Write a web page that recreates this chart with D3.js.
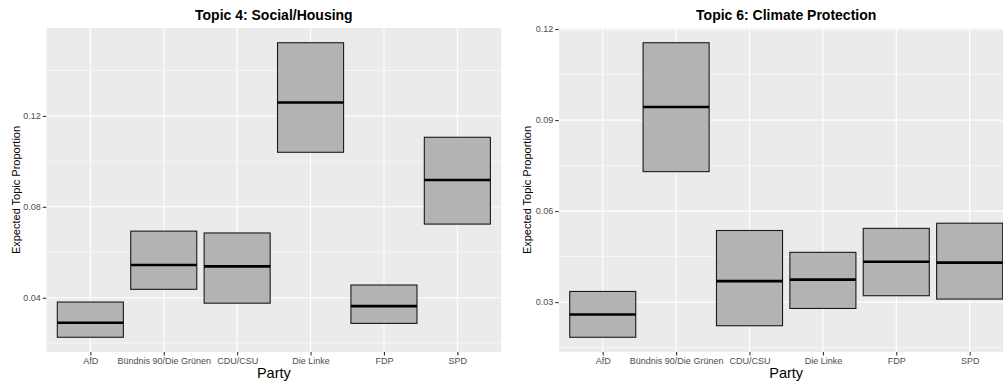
<!DOCTYPE html>
<html>
<head>
<meta charset="utf-8">
<script src="https://cdn.jsdelivr.net/npm/d3@7"></script>
<style>
  html, body { margin: 0; padding: 0; background: #ffffff; }
  svg { display: block; font-family: "Liberation Sans", Arial, Helvetica, sans-serif; }
</style>
</head>
<body>
<svg id="chart" width="1003" height="388"></svg>
<script>
// Parties on the x axis
const parties = ["AfD", "Bündnis 90/Die Grünen", "CDU/CSU", "Die Linke", "FDP", "SPD"];

// Topic 4: Social/Housing — estimated topic proportion with 95% interval
const socialLower = [0.0226, 0.0437, 0.0376, 0.1040, 0.0287, 0.0724];
const socialMean  = [0.0290, 0.0544, 0.0538, 0.1259, 0.0363, 0.0918];
const socialUpper = [0.0381, 0.0693, 0.0685, 0.1522, 0.0456, 0.1106];

// Topic 6: Climate Protection
const climateLower = [0.0184, 0.0730, 0.0222, 0.0279, 0.0321, 0.0310];
const climateMean  = [0.0259, 0.0943, 0.0369, 0.0374, 0.0433, 0.0430];
const climateUpper = [0.0335, 0.1155, 0.0536, 0.0464, 0.0543, 0.0560];

// Axis ticks
const socialTicks  = [0.04, 0.08, 0.12];
const socialMinor  = [0.02, 0.06, 0.10, 0.14];
const climateTicks = [0.03, 0.06, 0.09, 0.12];
const climateMinor = [0.015, 0.045, 0.075, 0.105];

const panels = [
  { title: "Topic 4: Social/Housing", lower: socialLower, mean: socialMean, upper: socialUpper,
    ticks: socialTicks, minor: socialMinor, fmt: d3.format(".2f"), x0: 46.3, x1: 501.4, axisTitleX: 15.5 },
  { title: "Topic 6: Climate Protection", lower: climateLower, mean: climateMean, upper: climateUpper,
    ticks: climateTicks, minor: climateMinor, fmt: d3.format(".2f"), x0: 558.7, x1: 1013.7, axisTitleX: 527 }
];

const svg = d3.select("#chart");
const panelTop = 28, panelBottom = 352;

panels.forEach(p => {
  const x = d3.scalePoint().domain(parties).range([p.x0, p.x1]).padding(0.6);
  const lo = d3.min(p.lower), hi = d3.max(p.upper);
  const pad = (hi - lo) * 0.05;
  const y = d3.scaleLinear().domain([lo - pad, hi + pad]).range([panelBottom, panelTop]);
  const bw = x.step() * 0.9;

  const g = svg.append("g");
  const clipId = "clip" + Math.round(p.x0);
  svg.append("clipPath").attr("id", clipId)
    .append("rect").attr("x", p.x0).attr("y", panelTop).attr("width", p.x1 - p.x0).attr("height", panelBottom - panelTop);

  const plot = g.append("g").attr("clip-path", `url(#${clipId})`);

  // Panel background
  plot.append("rect")
    .attr("x", p.x0).attr("y", panelTop)
    .attr("width", p.x1 - p.x0).attr("height", panelBottom - panelTop)
    .attr("fill", "#ebebeb");

  // Minor grid
  plot.selectAll(".minor").data(p.minor.filter(v => v >= y.domain()[0] && v <= y.domain()[1]))
    .enter().append("line")
    .attr("x1", p.x0).attr("x2", p.x1)
    .attr("y1", d => y(d)).attr("y2", d => y(d))
    .attr("stroke", "#ffffff").attr("stroke-width", 0.55);

  // Major grid
  plot.selectAll(".majorY").data(p.ticks)
    .enter().append("line")
    .attr("x1", p.x0).attr("x2", p.x1)
    .attr("y1", d => y(d)).attr("y2", d => y(d))
    .attr("stroke", "#ffffff").attr("stroke-width", 1.1);
  plot.selectAll(".majorX").data(parties)
    .enter().append("line")
    .attr("x1", d => x(d)).attr("x2", d => x(d))
    .attr("y1", panelTop).attr("y2", panelBottom)
    .attr("stroke", "#ffffff").attr("stroke-width", 1.1);

  // Crossbars
  const rows = parties.map((d, i) => ({ party: d, lower: p.lower[i], mean: p.mean[i], upper: p.upper[i] }));
  const bars = plot.selectAll(".bar").data(rows).enter().append("g");
  bars.append("rect")
    .attr("x", d => x(d.party) - bw / 2)
    .attr("y", d => y(d.upper))
    .attr("width", bw)
    .attr("height", d => y(d.lower) - y(d.upper))
    .attr("fill", "#b3b3b3")
    .attr("stroke", "#1a1a1a").attr("stroke-width", 1.1);
  bars.append("line")
    .attr("x1", d => x(d.party) - bw / 2).attr("x2", d => x(d.party) + bw / 2)
    .attr("y1", d => y(d.mean)).attr("y2", d => y(d.mean))
    .attr("stroke", "#000000").attr("stroke-width", 2.6);

  // Y axis
  const yAxis = g.append("g").attr("transform", `translate(${p.x0},0)`)
    .call(d3.axisLeft(y).tickValues(p.ticks).tickFormat(p.fmt).tickSize(3.5).tickPadding(2));
  yAxis.select(".domain").remove();
  yAxis.selectAll(".tick line").attr("stroke", "#333333").attr("stroke-width", 1.1);
  yAxis.selectAll(".tick text").attr("fill", "#4d4d4d").style("font-size", "9px")
    .style("font-family", "'Liberation Sans', Arial, sans-serif");

  // X axis
  const xAxis = g.append("g").attr("transform", `translate(0,${panelBottom})`)
    .call(d3.axisBottom(x).tickSize(3.5).tickPadding(2.5));
  xAxis.select(".domain").remove();
  xAxis.selectAll(".tick line").attr("stroke", "#333333").attr("stroke-width", 1.1);
  xAxis.selectAll(".tick text").attr("fill", "#4d4d4d").style("font-size", "9px")
    .style("font-family", "'Liberation Sans', Arial, sans-serif");

  const cx = (p.x0 + p.x1) / 2;

  // Titles
  g.append("text").attr("x", cx).attr("y", 19.5)
    .attr("text-anchor", "middle")
    .style("font-size", "14px").style("font-weight", "bold").attr("fill", "#000")
    .text(p.title);

  g.append("text").attr("x", cx).attr("y", 378)
    .attr("text-anchor", "middle")
    .style("font-size", "14.5px").attr("fill", "#000")
    .text("Party");

  g.append("text")
    .attr("transform", `translate(${p.axisTitleX + 4},${(panelTop + panelBottom) / 2}) rotate(-90)`)
    .attr("text-anchor", "middle")
    .style("font-size", "11px").attr("fill", "#000")
    .text("Expected Topic Proportion");
});
</script>
</body>
</html>
